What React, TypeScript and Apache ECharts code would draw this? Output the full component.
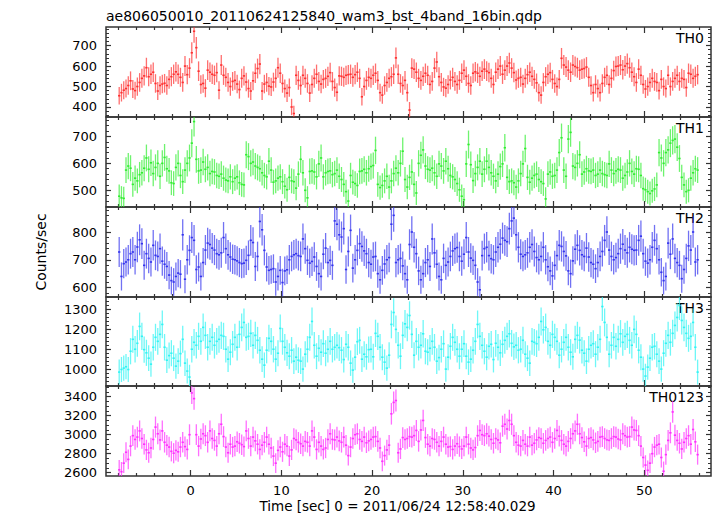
import React, { useEffect, useRef } from "react";
import * as echarts from "echarts";

// time bins: 0.25 s, first bin centre at -7.875 s
const T_START = -7.875;
const BIN = 0.25;

const panelNames = ["TH0", "TH1", "TH2", "TH3", "TH0123"];

const th0 = [
  455,470,482,490,505,528,488,480,500,520,
  540,552,592,548,560,570,515,478,505,512,
  516,505,535,548,560,572,560,545,520,600,
  558,590,665,770,690,575,510,515,492,580,
  570,560,555,568,482,605,555,545,520,500,
  525,530,512,485,540,552,522,490,478,528,
  565,588,610,478,512,520,502,498,522,540,
  592,565,515,490,468,495,400,368,555,530,
  505,555,540,515,468,510,540,560,525,512,
  535,540,550,568,525,495,472,552,550,545,
  555,558,560,545,558,570,540,
  450,500,530,545,540,555,565,530,470,458,
  505,520,540,548,560,640,560,515,505,530,
  470,385,590,585,570,540,530,550,565,555,
  510,525,590,620,548,520,498,492,510,532,
  545,525,510,530,565,580,550,515,505,565,
  572,565,550,575,585,575,568,540,510,570,
  585,600,560,580,600,615,590,568,532,540,
  545,512,540,558,570,550,535,518,470,458,
  520,548,560,568,535,515,500,535,638,605,
  595,580,570,605,598,592,580,585,588,595,
  545,505,470,510,490,470,515,545,555,510,
  540,578,598,600,605,582,600,612,592,570,
  548,520,585,555,510,488,500,520,540,525,
  520,480,535,500,490,555,500,525,540,555,
  525,540,535,495,565,560,540,550,558,
];

const th1 = [
  478,472,470,575,590,582,522,545,535,558,
  565,582,620,578,602,562,585,600,552,600,
  622,580,572,528,525,585,600,555,532,575,
  600,620,675,755,615,572,575,605,578,585,
  562,570,568,555,552,560,545,538,535,550,
  532,545,550,528,522,520,632,625,600,605,
  590,585,580,565,555,550,608,575,530,535,
  545,550,532,515,502,548,535,532,508,560,
  615,565,500,472,570,572,568,550,598,620,
  550,565,570,572,558,562,575,552,540,522,
  495,460,555,530,525,518,570,
  572,578,565,580,588,592,648,522,510,518,
  535,552,512,535,562,582,565,600,645,540,
  512,548,568,522,490,600,630,650,590,578,
  575,582,565,552,598,590,572,608,580,555,
  550,540,525,502,478,465,598,670,595,536,
  562,585,608,560,578,608,585,565,552,535,
  560,588,598,658,548,532,535,528,512,535,
  562,598,655,548,530,545,555,560,540,532,
  525,468,560,568,552,555,575,640,695,575,
  552,690,715,590,585,600,632,560,568,580,
  572,570,575,555,560,575,562,558,555,598,
  575,562,572,578,575,545,555,568,600,570,
  560,580,578,555,506,502,495,488,498,505,
  520,640,620,600,640,650,675,685,690,660,
  618,548,520,495,500,545,565,580,575,
];

const th2 = [
  728,640,686,692,700,722,728,700,746,772,
  758,680,722,705,692,752,716,712,740,695,
  684,676,645,625,620,640,652,648,790,630,
  700,734,780,770,665,674,640,690,735,760,
  755,742,735,722,718,725,780,740,718,710,
  702,700,696,690,686,688,698,716,770,762,
  676,712,838,808,734,674,662,665,668,620,
  640,662,618,660,664,700,712,718,722,715,
  712,775,740,698,688,694,710,676,650,640,
  720,742,690,698,680,840,828,790,782,812,
  665,730,806,670,700,734,758,
  748,732,722,690,684,710,712,650,628,662,
  685,700,708,828,860,690,700,705,678,650,
  628,755,800,745,722,660,628,650,690,700,
  676,775,725,684,640,628,705,680,692,712,
  732,740,744,712,695,720,780,728,706,698,
  680,620,592,715,740,745,715,704,700,728,
  745,756,778,770,765,812,840,850,790,745,
  720,712,718,725,745,755,730,708,700,712,
  745,700,675,660,642,680,715,752,748,730,
  714,660,650,696,738,752,734,718,712,742,
  710,690,684,668,690,712,730,770,800,735,
  712,700,708,722,740,756,735,725,745,738,
  734,735,770,785,722,695,688,700,745,770,
  740,700,655,625,640,760,720,775,705,690,
  680,632,665,705,750,735,800,692,700,
];

const th3 = [
  985,998,1005,1012,998,1090,1150,1100,1130,1215,
  1165,1098,1082,1055,1025,1110,1160,1140,1175,1225,
  1110,1045,1068,1080,1055,1015,1040,1078,1150,1030,
  990,960,1100,1135,1120,1165,1140,1210,1170,1110,
  1140,1160,1120,1140,1150,1170,1165,1100,1050,1085,
  1125,1160,1110,1175,1210,1235,1160,1165,1180,1120,
  1170,1145,1095,1050,1020,1095,1155,1140,1100,1050,
  1080,1205,1140,1110,1082,1065,1095,1040,1060,1045,
  1040,1000,1075,1100,1160,1240,1120,1065,1105,1085,
  1128,1080,1100,1140,1100,1110,1120,1108,1095,1048,
  1125,1110,1030,995,1060,1138,1145,
  1050,1075,1062,1098,1100,1062,1180,1165,1110,1060,
  1035,1005,1070,1225,1285,1200,1120,1065,1170,1228,
  1210,1270,1175,1070,1140,1110,1120,1178,1090,1085,
  1105,1140,1110,1040,1058,1100,1128,1000,1060,1115,
  1160,1135,1100,1065,1100,1128,1065,1035,1050,1095,
  1140,1225,1165,1120,1090,1060,1115,1125,1048,1130,
  1110,1082,1125,1145,1165,1178,1130,1112,1120,1095,
  1100,1145,1075,1055,1030,1140,1135,1128,1160,1240,
  1198,1210,1140,1120,1175,1160,1140,1070,1100,1135,
  1160,1110,1085,1062,1150,1170,1146,1095,1080,1040,
  1100,1120,1128,1075,1110,1150,1315,1235,1160,1075,
  1120,1160,1115,1150,1178,1135,1165,1175,1145,1120,
  1200,1175,1095,1060,1000,965,1010,1055,1110,1115,
  1075,1040,1000,1080,1130,1170,1135,1180,1220,1260,
  1320,1245,1210,1180,1155,1165,1235,1110,985,
];

const th0123 = [
  2630,2610,2700,2815,2740,2880,2990,2950,2975,3040,
  2960,2900,2840,2810,2860,2950,3080,3010,2945,3040,
  2920,2890,2870,2825,2805,2835,2820,2870,2920,2875,
  2845,3000,3440,3380,3000,2880,2955,3010,2990,2920,
  3040,2960,2940,2880,3010,3110,2980,2870,2810,2900,
  2870,2880,2925,2910,2895,2875,3040,2960,2880,2975,
  2935,2900,2845,2890,2920,2975,2900,2860,2775,2700,
  2835,2870,2820,2900,2880,2775,2840,2960,2945,2920,
  2905,2880,2930,2920,2880,3040,2975,2845,2920,2880,
  2845,2860,2950,3010,2950,2945,2975,2935,2920,2975,
  2890,2780,2870,2960,3000,3010,2950,
  2930,2975,2915,2935,2950,2975,2980,2930,2860,2720,
  2780,2840,2890,3220,3340,3360,2810,2850,2970,2950,
  2960,2980,2975,2990,3045,2930,3050,3150,2970,2900,
  2880,2960,2950,2920,2880,2930,2975,2900,2870,2875,
  2845,2880,2905,2875,2850,2880,2975,2900,2860,2840,
  2865,2990,3045,3000,2990,3010,2985,2950,2910,2960,
  2945,2915,3090,3110,3060,3150,3110,2990,2920,2890,
  2880,2940,2900,2880,2975,2890,2910,2945,2970,2960,
  2910,2940,2960,2975,2920,2960,3045,2985,2940,2900,
  2880,2930,2960,3010,3040,3110,3010,2970,2925,2880,
  2960,2970,2945,2915,2930,2975,2980,2960,2945,2940,
  2960,2980,2975,2955,2945,3010,2990,2975,2980,3080,
  3050,3045,2990,2880,2760,2680,2625,2700,2800,2870,
  2890,2900,2760,2615,2790,2940,3020,3240,2995,2940,
  2910,2850,2920,2960,2990,2900,3055,2925,2790,
];

const seriesValues = [th0, th1, th2, th3, th0123];

// axis ranges and tick labels
const xRange = [-9.33, 57.35];
const xMajorTicks = [0, 10, 20, 30, 40, 50];
const xMinorTicks = [-8, -6, -4, -2, 2, 4, 6, 8, 12, 14, 16, 18, 22, 24, 26, 28, 32, 34, 36, 38, 42, 44, 46, 48, 52, 54, 56];
const yRanges = [[351, 791], [438, 772], [566, 890], [915, 1363], [2565, 3513]];
const yMajorTicks = [
  [400, 500, 600, 700],
  [500, 600, 700],
  [600, 700, 800],
  [1000, 1100, 1200, 1300],
  [2600, 2800, 3000, 3200, 3400],
];
const yMinorStep = [20, 20, 20, 20, 50];

const colors = ["#ff3030", "#30ee30", "#3434ee", "#30f4f4", "#ff30ff"];
const titleText = "ae806050010_20110624125840_wam3_bst_4band_16bin.qdp";
const xName = "Time [sec] 0 = 2011/06/24 12:58:40.029";
const yName = "Counts/sec";

const gridTops = [27, 117, 207, 297, 386];
const gridHeights = [90, 90, 90, 89, 90];
const FONT = "DejaVu Sans";
const AX = "#333";

function minorValues(g: number): number[] {
  const [lo, hi] = yRanges[g];
  const step = yMinorStep[g];
  const out: number[] = [];
  for (let v = Math.ceil(lo / step) * step; v <= hi; v += step) {
    if (!yMajorTicks[g].includes(v)) out.push(v);
  }
  return out;
}

const plain = (v: number) => String(v);

function buildOption() {
  const grid: any[] = [];
  const xAxis: any[] = [];
  const yAxis: any[] = [];
  const series: any[] = [];
  const graphic: any[] = [];

  for (let g = 0; g < 5; g++) {
    grid.push({
      left: 106,
      width: 605,
      top: gridTops[g],
      height: gridHeights[g],
      show: true,
      borderColor: AX,
      borderWidth: 1.5,
      backgroundColor: "transparent",
    });
    const xBase = {
      gridIndex: g,
      type: "value",
      min: xRange[0],
      max: xRange[1],
      axisLine: { show: false, onZero: false },
      splitLine: { show: false },
    };
    const isLast = g === 4;
    xAxis.push({
      ...xBase,
      position: "bottom",
      axisTick: { show: true, inside: true, length: 6, customValues: xMajorTicks, lineStyle: { color: AX, width: 1.2 } },
      axisLabel: isLast
        ? { show: true, customValues: xMajorTicks, formatter: plain, fontSize: 13, fontFamily: FONT, color: "#000", margin: 8 }
        : { show: false },
      name: isLast ? xName : "",
      nameLocation: "middle",
      nameGap: 23,
      nameTextStyle: { fontSize: 13.5, fontFamily: FONT, color: "#000", padding: [0, 22, 0, 0] },
    });
    xAxis.push({
      ...xBase,
      position: "bottom",
      axisTick: { show: true, inside: true, length: 3, customValues: xMinorTicks, lineStyle: { color: AX, width: 1.2 } },
      axisLabel: { show: false },
    });
    xAxis.push({
      ...xBase,
      position: "top",
      axisTick: { show: true, inside: true, length: 6, customValues: xMajorTicks, lineStyle: { color: AX, width: 1.2 } },
      axisLabel: { show: false },
    });
    xAxis.push({
      ...xBase,
      position: "top",
      axisTick: { show: true, inside: true, length: 3, customValues: xMinorTicks, lineStyle: { color: AX, width: 1.2 } },
      axisLabel: { show: false },
    });

    const yBase = {
      gridIndex: g,
      type: "value",
      min: yRanges[g][0],
      max: yRanges[g][1],
      axisLine: { show: false, onZero: false },
      splitLine: { show: false },
    };
    const minors = minorValues(g);
    yAxis.push({
      ...yBase,
      position: "left",
      axisTick: { show: true, inside: true, length: 5, customValues: yMajorTicks[g], lineStyle: { color: AX, width: 1.2 } },
      axisLabel: { show: true, customValues: yMajorTicks[g], formatter: plain, fontSize: 13, fontFamily: FONT, color: "#000", margin: 9 },
      name: g === 2 ? yName : "",
      nameLocation: "middle",
      nameGap: 58,
      nameTextStyle: { fontSize: 14, fontFamily: FONT, color: "#000" },
    });
    yAxis.push({
      ...yBase,
      position: "left",
      axisTick: { show: true, inside: true, length: 3, customValues: minors, lineStyle: { color: AX, width: 1 } },
      axisLabel: { show: false },
    });
    yAxis.push({
      ...yBase,
      position: "right",
      axisTick: { show: true, inside: true, length: 5, customValues: yMajorTicks[g], lineStyle: { color: AX, width: 1.2 } },
      axisLabel: { show: false },
    });
    yAxis.push({
      ...yBase,
      position: "right",
      axisTick: { show: true, inside: true, length: 3, customValues: minors, lineStyle: { color: AX, width: 1 } },
      axisLabel: { show: false },
    });

    const color = colors[g];
    const data = seriesValues[g].map((v, i) => [T_START + i * BIN, v, 2 * Math.sqrt(v)]);
    series.push({
      type: "custom",
      name: panelNames[g],
      xAxisIndex: g * 4,
      yAxisIndex: g * 4,
      clip: true,
      silent: true,
      encode: { x: 0, y: 1 },
      data,
      renderItem: (params: any, api: any) => {
        const t = api.value(0);
        const v = api.value(1);
        const e = api.value(2);
        const pl = api.coord([t - BIN / 2, v]);
        const pr = api.coord([t + BIN / 2, v]);
        const pt = api.coord([t, v + e]);
        const pb = api.coord([t, v - e]);
        return {
          type: "group",
          children: [
            {
              type: "line",
              shape: { x1: pt[0], y1: pt[1], x2: pb[0], y2: pb[1] },
              style: { stroke: color, lineWidth: 1.3, opacity: 0.7 },
            },
            {
              type: "line",
              shape: { x1: pl[0], y1: pl[1], x2: pr[0], y2: pr[1] },
              style: { stroke: color, lineWidth: 1.6 },
            },
          ],
        };
      },
    });

    graphic.push({
      type: "text",
      x: 704,
      y: gridTops[g] + 11,
      style: {
        text: panelNames[g],
        textAlign: "right",
        textVerticalAlign: "middle",
        font: `14px "${FONT}"`,
        fill: "#000",
      },
    });
  }

  graphic.push({
    type: "text",
    x: 106,
    y: 15.5,
    style: {
      text: titleText,
      textAlign: "left",
      textVerticalAlign: "middle",
      font: `14px "${FONT}"`,
      fill: "#000",
    },
  });

  return {
    animation: false,
    backgroundColor: "#fff",
    grid,
    xAxis,
    yAxis,
    series,
    graphic,
  };
}

export default function App() {
  const ref = useRef<HTMLDivElement>(null);
  useEffect(() => {
    if (!ref.current) return;
    const chart = echarts.init(ref.current, null, { renderer: "svg" });
    chart.setOption(buildOption() as any);
    return () => chart.dispose();
  }, []);
  return (
    <div
      ref={ref}
      style={{ position: "absolute", left: 0, top: 0, width: 717, height: 516, background: "#fff" }}
    />
  );
}
